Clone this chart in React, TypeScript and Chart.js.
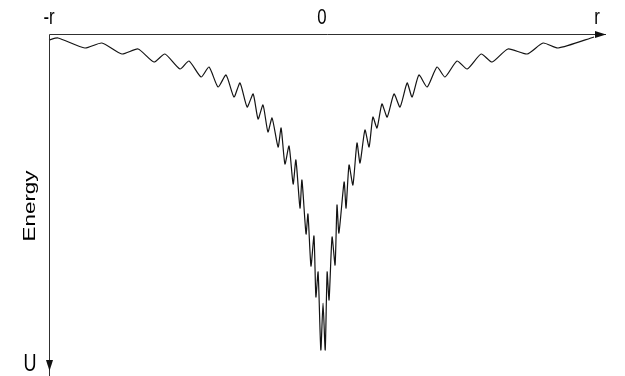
import React, { useEffect, useRef } from "react";
import { Chart, registerables } from "chart.js";

Chart.register(...registerables);

// Position along r (in units of r)
const positions: number[] = [
  -1.0, -0.967, -0.869, -0.807, -0.734, -0.675, -0.617, -0.577, -0.522, -0.489,
  -0.445, -0.416, -0.383, -0.354, -0.325, -0.303, -0.277, -0.255, -0.237, -0.219,
  -0.201, -0.186, -0.164, -0.153, -0.139, -0.124, -0.109, -0.099, -0.084, -0.077,
  -0.062, -0.055, -0.044, -0.033, -0.026, -0.018, -0.008, 0.0, 0.008, 0.015,
  0.022, 0.033, 0.044, 0.051, 0.058, 0.077, 0.084, 0.095, 0.109, 0.124,
  0.135, 0.153, 0.168, 0.182, 0.197, 0.215, 0.234, 0.259, 0.281, 0.307,
  0.325, 0.35, 0.38, 0.416, 0.445, 0.489, 0.526, 0.577, 0.617, 0.675,
  0.745, 0.803, 0.858, 0.989,
];

// Energy U (downward)
const energies: number[] = [
  6, 4, 14, 9, 20, 15, 28, 20, 35, 27,
  43, 33, 53, 41, 63, 49, 73, 60, 85, 71,
  98, 84, 113, 94, 130, 112, 150, 126, 174, 146,
  200, 180, 232, 202, 263, 238, 316, 269, 316, 238,
  266, 203, 231, 171, 199, 148, 174, 131, 151, 109,
  129, 96, 113, 83, 94, 70, 83, 60, 73, 49,
  63, 41, 53, 33, 43, 27, 35, 20, 28, 15,
  20, 9, 14, 3,
];

const tickValues: number[] = [-1, 0, 1];
const tickLabels: string[] = ["-r", "0", "r"];
const axisTitle = "Energy";
const energyLabel = "U";

const FONT = "'Liberation Sans', Arial, sans-serif";

const axesPlugin = {
  id: "physAxes",
  afterDatasetsDraw(chart: any) {
    const ctx: CanvasRenderingContext2D = chart.ctx;
    const xs = chart.scales.x;
    const ys = chart.scales.y;
    const y0 = Math.round(ys.getPixelForValue(0)) + 0.5;
    const xLeft = Math.round(xs.getPixelForValue(-1)) + 0.5;
    const xRight = xs.right + 1;
    const yBottom = chart.height;
    ctx.save();
    ctx.strokeStyle = "#303030";
    ctx.fillStyle = "#111";
    ctx.lineWidth = 1;
    // horizontal axis
    ctx.beginPath();
    ctx.moveTo(xLeft, y0);
    ctx.lineTo(xRight, y0);
    ctx.stroke();
    // arrow right
    ctx.beginPath();
    ctx.moveTo(xRight, y0);
    ctx.lineTo(xRight - 11, y0 - 3.5);
    ctx.lineTo(xRight - 11, y0 + 3.5);
    ctx.closePath();
    ctx.fill();
    // vertical axis
    ctx.beginPath();
    ctx.moveTo(xLeft, y0);
    ctx.lineTo(xLeft, yBottom);
    ctx.stroke();
    const tipY = ys.bottom + 1;
    ctx.beginPath();
    ctx.moveTo(xLeft, tipY);
    ctx.lineTo(xLeft - 3.5, tipY - 11);
    ctx.lineTo(xLeft + 3.5, tipY - 11);
    ctx.closePath();
    ctx.fill();

    // tick labels
    ctx.fillStyle = "#000";
    ctx.textAlign = "center";
    ctx.textBaseline = "alphabetic";
    tickValues.forEach((v, i) => {
      const px = xs.getPixelForValue(v) - (i === 1 ? 1 : 0);
      ctx.save();
      ctx.translate(px, 24);
      ctx.scale(1.05, 1.4);
      ctx.font = `16px ${FONT}`;
      ctx.fillText(tickLabels[i], 0, 0);
      ctx.restore();
    });

    // Energy title (rotated)
    ctx.save();
    ctx.translate(35, (ys.top + ys.bottom) / 2 + 4);
    ctx.rotate(-Math.PI / 2);
    ctx.scale(1.32, 1);
    ctx.font = `17px ${FONT}`;
    ctx.textAlign = "center";
    ctx.fillText(axisTitle, 0, 0);
    ctx.restore();

    // U label
    ctx.save();
    ctx.translate(30, 371);
    ctx.scale(1, 1.3);
    ctx.font = `18px ${FONT}`;
    ctx.textAlign = "center";
    ctx.fillText(energyLabel, 0, 0);
    ctx.restore();
    ctx.restore();
  },
};

export default function App() {
  const ref = useRef<HTMLCanvasElement | null>(null);
  useEffect(() => {
    if (!ref.current) return;
    const data = positions.map((x, i) => ({ x, y: energies[i] }));
    const chart = new Chart(ref.current, {
      type: "line",
      data: {
        datasets: [
          {
            data,
            borderColor: "#141414",
            borderWidth: 1.2,
            pointRadius: 0,
            tension: 0.2,
            fill: false,
            clip: false as any,
          },
        ],
      },
      options: {
        animation: false,
        responsive: false,
        devicePixelRatio: 1,
        events: [],
        layout: { padding: { left: 49, top: 34, right: 20, bottom: 6 } },
        plugins: { legend: { display: false }, tooltip: { enabled: false } },
        scales: {
          x: { type: "linear", min: -1, max: 1.029, display: false },
          y: { type: "linear", min: 0, max: 336, reverse: true, display: false },
        },
      },
      plugins: [axesPlugin],
    });
    return () => chart.destroy();
  }, []);
  return (
    <div style={{ position: "absolute", left: 0, top: 0, width: 625, height: 376, background: "#fff" }}>
      <canvas ref={ref} width={625} height={376} />
    </div>
  );
}
